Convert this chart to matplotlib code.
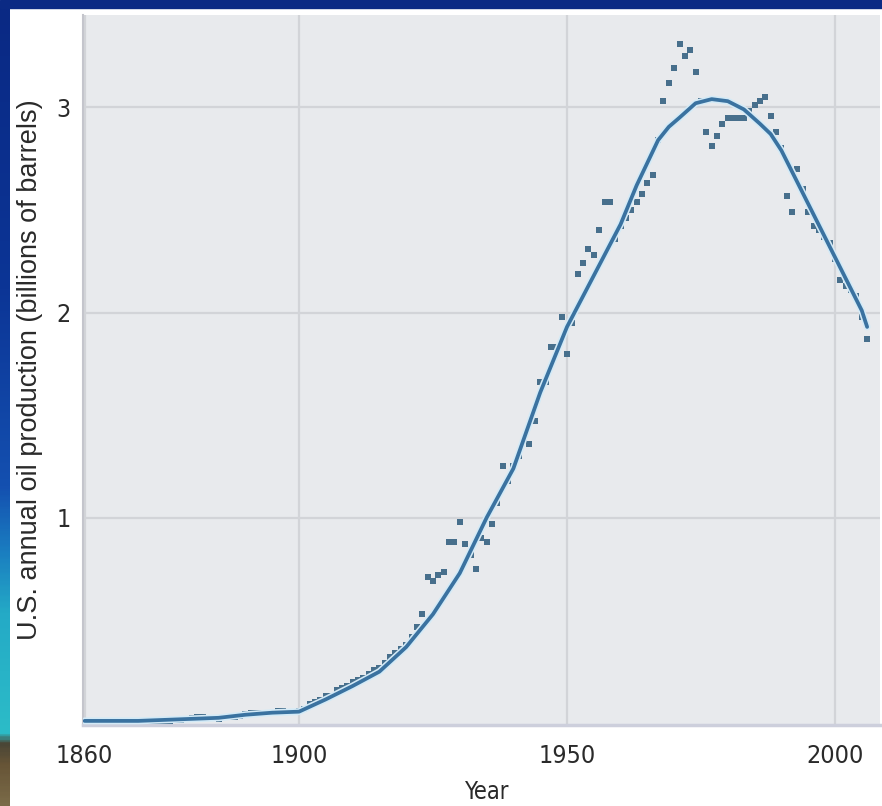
import matplotlib
matplotlib.use("Agg")
import matplotlib.pyplot as plt
import matplotlib.patheffects as pe
from matplotlib.patches import Rectangle
from matplotlib.colors import LinearSegmentedColormap
import numpy as np

# annual U.S. oil production, billions of barrels
years = list(range(1860, 2007))
production = [
    0.01, 0.01, 0.01, 0.01, 0.01, 0.01, 0.01, 0.01, 0.01, 0.01,       # 1860s
    0.01, 0.01, 0.01, 0.01, 0.01, 0.01, 0.01, 0.015, 0.015, 0.02,     # 1870s
    0.025, 0.03, 0.03, 0.025, 0.025, 0.02, 0.03, 0.03, 0.03, 0.035,   # 1880s
    0.045, 0.05, 0.05, 0.05, 0.05, 0.05, 0.06, 0.06, 0.055, 0.055,    # 1890s
    0.06, 0.07, 0.09, 0.10, 0.11, 0.13, 0.13, 0.16, 0.17, 0.18,       # 1900s
    0.20, 0.21, 0.22, 0.24, 0.26, 0.27, 0.29, 0.32, 0.34, 0.36,       # 1910s
    0.38, 0.42, 0.47, 0.53, 0.71, 0.69, 0.72, 0.735, 0.88, 0.88,      # 1920s
    0.98, 0.87, 0.82, 0.75, 0.90, 0.88, 0.97, 1.07, 1.25, 1.18,       # 1930s
    1.25, 1.30, 1.38, 1.36, 1.47, 1.66, 1.66, 1.83, 1.83, 1.98,       # 1940s
    1.80, 1.95, 2.19, 2.24, 2.31, 2.28, 2.40, 2.54, 2.54, 2.36,       # 1950s
    2.42, 2.46, 2.50, 2.54, 2.58, 2.63, 2.67, 2.84, 3.03, 3.12,       # 1960s
    3.19, 3.31, 3.25, 3.28, 3.17, 3.03, 2.88, 2.81, 2.86, 2.92,       # 1970s
    2.95, 2.95, 2.95, 2.95, 2.98, 3.01, 3.03, 3.05, 2.96, 2.88,       # 1980s
    2.80, 2.57, 2.49, 2.70, 2.60, 2.49, 2.42, 2.40, 2.37, 2.34,       # 1990s
    2.26, 2.16, 2.13, 2.11, 2.08, 1.98, 1.87,                         # 2000s
]

# fitted production curve
fit_years = [1860, 1870, 1880, 1885, 1890, 1895, 1900, 1905, 1910, 1915,
             1920, 1925, 1930, 1935, 1940, 1945, 1950, 1955, 1960, 1963,
             1965, 1967, 1969, 1971, 1974, 1977, 1980, 1983, 1986, 1988,
             1990, 1995, 2000, 2005, 2006]
fit_values = [0.01, 0.01, 0.02, 0.025, 0.04, 0.05, 0.055, 0.115, 0.18, 0.25,
              0.37, 0.53, 0.73, 1.00, 1.24, 1.61, 1.93, 2.18, 2.43, 2.62,
              2.73, 2.84, 2.905, 2.95, 3.02, 3.04, 3.03, 2.99, 2.92, 2.87,
              2.79, 2.53, 2.27, 2.01, 1.93]

x_ticks = [1860, 1900, 1950, 2000]
y_ticks = [1, 2, 3]

W, H = 882, 806
fig = plt.figure(figsize=(W / 100, H / 100), dpi=100)
fig.patch.set_facecolor("white")

# slide frame: navy bar on top, coloured strip on the left
fig.add_artist(Rectangle((0, 1 - 8 / H), 1, 8 / H, transform=fig.transFigure,
                         color="#0b2a84", zorder=5))
strip = fig.add_axes([0, 0, 10 / W, 1 - 8 / H])
strip_cmap = LinearSegmentedColormap.from_list("strip", [
    (0.0, "#0a2984"), (0.35, "#0c3596"), (0.6, "#1450b0"), (0.68, "#1a7cc0"),
    (0.76, "#24aac6"), (0.91, "#2cbcc8"), (0.925, "#4a4636"), (0.95, "#665436"),
    (1.0, "#7a6a48")])
strip.imshow(np.linspace(0, 1, 400).reshape(-1, 1), cmap=strip_cmap, aspect="auto")
strip.axis("off")

ax = fig.add_axes([83 / W, 81 / H, 797 / W, 710 / H])
ax.set_facecolor("#e8eaed")
ax.set_xlim(1859.7, 2008.4)
ax.set_ylim(-0.01, 3.45)

ax.plot(years, production, "s", ms=4.3, color="#476f8c", mew=0, zorder=3)
ax.plot(fit_years, fit_values, color="#3a72a0", lw=2.7, zorder=4,
        solid_joinstyle="round", solid_capstyle="round",
        path_effects=[pe.Stroke(linewidth=5, foreground="#d3eaf7"), pe.Normal()])

ax.set_xticks(x_ticks)
ax.set_yticks(y_ticks)
ax.grid(True, color="#d2d4d8", lw=1.6)
ax.set_axisbelow(True)
ax.tick_params(length=0)
ax.tick_params(axis="x", pad=14)
ax.tick_params(axis="y", pad=9)

for lbl in ax.get_xticklabels() + ax.get_yticklabels():
    lbl.set_family("DejaVu Sans")
    lbl.set_stretch("condensed")
    lbl.set_fontsize(18)
    lbl.set_color("#2a2a2a")

for side in ["top", "right"]:
    ax.spines[side].set_visible(False)
ax.spines["left"].set_color("#c4c5cc")
ax.spines["left"].set_linewidth(1.5)
ax.spines["bottom"].set_color("#cdcfdc")
ax.spines["bottom"].set_linewidth(2.5)

ax.set_xlabel("Year", family="DejaVu Sans", stretch="condensed", fontsize=17,
              color="#2a2a2a")
ax.xaxis.set_label_coords(0.507, -0.078)
ax.set_ylabel("U.S. annual oil production (billions of barrels)",
              family="Liberation Sans", fontsize=19.5, color="#2a2a2a")
ax.yaxis.set_label_coords(-0.05, 0.5)

fig.savefig("out.png", dpi=100, facecolor=fig.get_facecolor())
